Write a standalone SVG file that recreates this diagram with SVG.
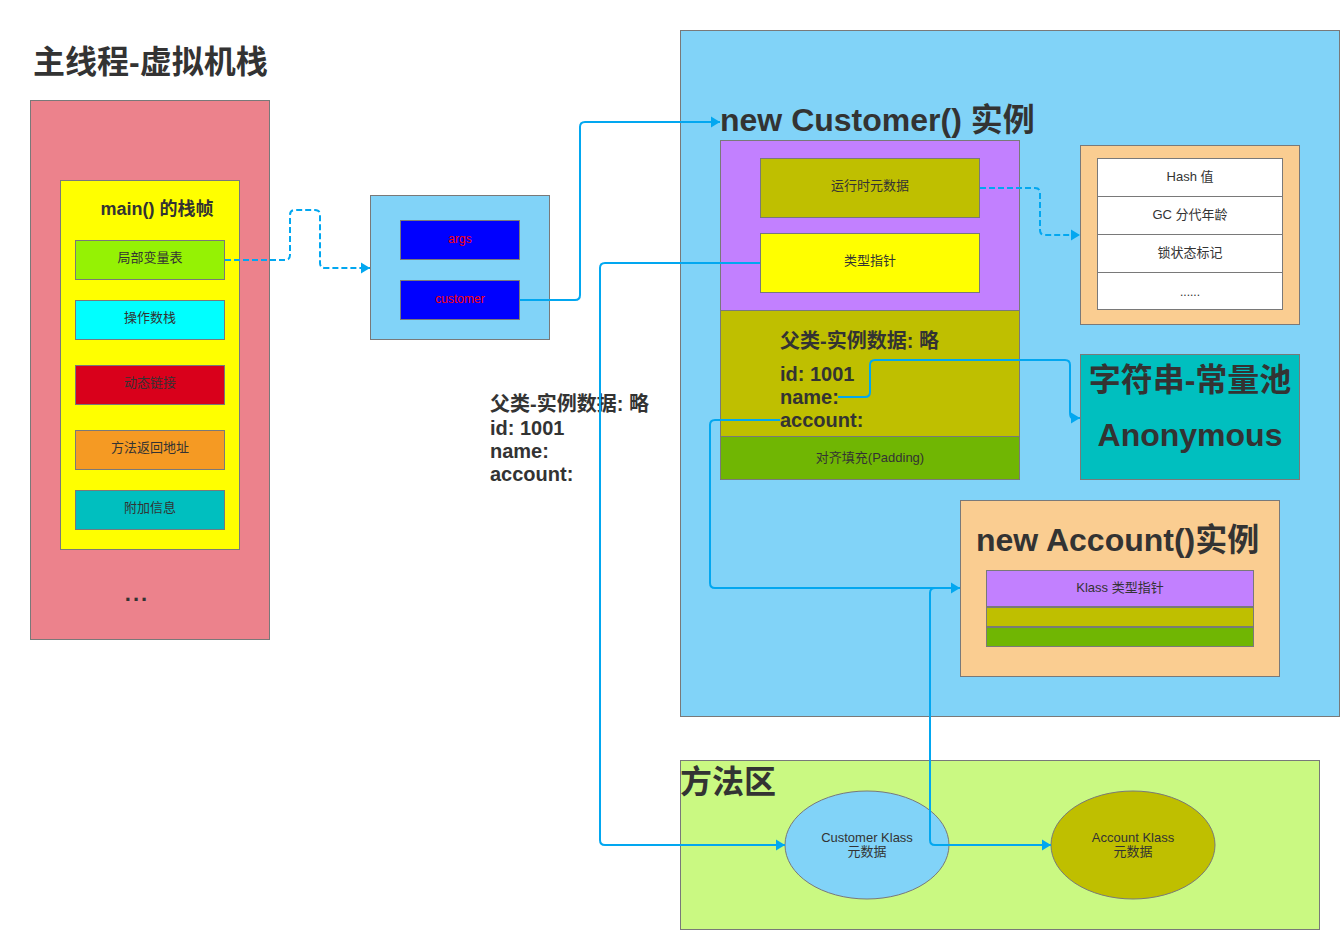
<svg xmlns="http://www.w3.org/2000/svg" width="1340" height="930" viewBox="0 0 1340 930">
<defs>
<style>
text{font-family:"Liberation Sans","Noto Sans CJK SC",sans-serif;fill:#333333}
.b{font-weight:bold}
.box{stroke:#797979;stroke-width:1}
.s13{font-size:13px}
.s12{font-size:12px}
.c{text-anchor:middle;dominant-baseline:central}
.ln{fill:none;stroke:#02A7F0;stroke-width:2}
.dash{stroke-dasharray:6,3}
</style>
<marker id="ar" viewBox="0 0 10 12" refX="10" refY="6" markerWidth="9" markerHeight="12" orient="auto" markerUnits="userSpaceOnUse">
<path d="M0,0 L10,6 L0,12 z" fill="#02A7F0"/>
</marker>
</defs>
<rect width="1340" height="930" fill="#FFFFFF"/>

<g id="stack">
<text x="33" y="73" class="b" font-size="32">主线程-虚拟机栈</text>
<rect x="30.5" y="100.5" width="239" height="539" fill="#EC828C" class="box"/>
<text x="137" y="601" class="b" font-size="22" text-anchor="middle" letter-spacing="2">...</text>
</g>
<g id="frame">
<rect x="60.5" y="180.5" width="179" height="369" fill="#FFFF00" class="box"/>
<text x="157" y="209" class="b c" font-size="18">main() 的栈帧</text>
</g>
<g id="locals"><rect x="75.5" y="240.5" width="149" height="39" fill="#95F204" class="box"/><text x="150" y="257" class="s13 c">局部变量表</text></g>
<g id="operand"><rect x="75.5" y="300.5" width="149" height="39" fill="#00FFFF" class="box"/><text x="150" y="317" class="s13 c">操作数栈</text></g>
<g id="dynlink"><rect x="75.5" y="365.5" width="149" height="39" fill="#D9001B" class="box"/><text x="150" y="382" class="s13 c">动态链接</text></g>
<g id="retaddr"><rect x="75.5" y="430.5" width="149" height="39" fill="#F59A23" class="box"/><text x="150" y="447" class="s13 c">方法返回地址</text></g>
<g id="extra"><rect x="75.5" y="490.5" width="149" height="39" fill="#00BFBF" class="box"/><text x="150" y="507" class="s13 c">附加信息</text></g>

<g id="lvt">
<rect x="370.5" y="195.5" width="179" height="144" fill="#81D3F8" class="box"/>
<rect x="400.5" y="220.5" width="119" height="39" fill="#0000FF" class="box"/>
<text x="460" y="239" class="s12 c" style="fill:#FF0000">args</text>
<rect x="400.5" y="280.5" width="119" height="39" fill="#0000FF" class="box"/>
<text x="460" y="299" class="s12 c" style="fill:#FF0000">customer</text>
</g>

<g id="floating-text">
<text x="490" y="411" class="b" font-size="20">父类-实例数据: 略</text>
<text x="490" y="435" class="b" font-size="20">id: 1001</text>
<text x="490" y="458" class="b" font-size="20">name:</text>
<text x="490" y="481" class="b" font-size="20">account:</text>
</g>

<g id="heap">
<rect x="680.5" y="30.5" width="659" height="686" fill="#81D3F8" class="box"/>
</g>
<g id="customer">
<text x="720" y="131" class="b" font-size="32">new Customer() 实例</text>
<rect x="720.5" y="140.5" width="299" height="170" fill="#C280FF" class="box"/>
<rect x="760.5" y="158.5" width="219" height="59" fill="#BFBF00" class="box"/>
<text x="870" y="185" class="s13 c">运行时元数据</text>
<rect x="760.5" y="233.5" width="219" height="59" fill="#FFFF00" class="box"/>
<text x="870" y="260" class="s13 c">类型指针</text>
<rect x="720.5" y="310.5" width="299" height="126" fill="#BFBF00" class="box"/>
<text x="780" y="348" class="b" font-size="20">父类-实例数据: 略</text>
<text x="780" y="381" class="b" font-size="20">id: 1001</text>
<text x="780" y="404" class="b" font-size="20">name:</text>
<text x="780" y="427" class="b" font-size="20">account:</text>
<rect x="720.5" y="436.5" width="299" height="43" fill="#70B603" class="box"/>
<text x="870" y="457" class="s13 c">对齐填充(Padding)</text>
</g>

<g id="markword">
<rect x="1080.5" y="145.5" width="219" height="179" fill="#FACD91" class="box"/>
<rect x="1097.5" y="158.5" width="185" height="38" fill="#FFFFFF" class="box"/>
<rect x="1097.5" y="196.5" width="185" height="38" fill="#FFFFFF" class="box"/>
<rect x="1097.5" y="234.5" width="185" height="38" fill="#FFFFFF" class="box"/>
<rect x="1097.5" y="272.5" width="185" height="37" fill="#FFFFFF" class="box"/>
<text x="1190" y="176" class="s13 c">Hash 值</text>
<text x="1190" y="214" class="s13 c">GC 分代年龄</text>
<text x="1190" y="252" class="s13 c">锁状态标记</text>
<text x="1190" y="292" class="s12 c">......</text>
</g>

<g id="stringpool">
<rect x="1080.5" y="354.5" width="219" height="125" fill="#00BFBF" class="box"/>
<text x="1190" y="380" class="b c" font-size="32">字符串-常量池</text>
<text x="1190" y="435" class="b c" font-size="32">Anonymous</text>
</g>

<g id="account">
<rect x="960.5" y="500.5" width="319" height="176" fill="#FACD91" class="box"/>
<text x="976" y="551" class="b" font-size="32">new Account()实例</text>
<rect x="986.5" y="570.5" width="267" height="36" fill="#C280FF" class="box"/>
<text x="1120" y="587" class="s13 c">Klass 类型指针</text>
<rect x="986.5" y="607.5" width="267" height="19" fill="#BFBF00" class="box"/>
<rect x="986.5" y="627.5" width="267" height="19" fill="#70B603" class="box"/>
</g>

<g id="methodarea">
<rect x="680.5" y="760.5" width="639" height="169" fill="#CAF982" class="box"/>
<text x="680" y="793" class="b" font-size="32">方法区</text>
</g>
<g id="customerklass">
<ellipse cx="867" cy="845" rx="82" ry="54" fill="#81D3F8" class="box"/>
<text x="867" y="837" class="s13 c">Customer Klass</text>
<text x="867" y="851" class="s13 c">元数据</text>
</g>
<g id="accountklass">
<ellipse cx="1133" cy="845" rx="82" ry="54" fill="#BFBF00" class="box"/>
<text x="1133" y="837" class="s13 c">Account Klass</text>
<text x="1133" y="851" class="s13 c">元数据</text>
</g>

<g id="connectors">
<path class="ln dash" d="M225,260 H285 Q290,260 290,255 V215 Q290,210 295,210 H315 Q320,210 320,215 V263 Q320,268 325,268 H370" marker-end="url(#ar)"/>
<path class="ln" d="M520,300 H575 Q580,300 580,295 V127 Q580,122 585,122 H720" marker-end="url(#ar)"/>
<path class="ln dash" d="M980,188 H1035 Q1040,188 1040,193 V230 Q1040,235 1045,235 H1080" marker-end="url(#ar)"/>
<path class="ln" d="M838,397 H865 Q870,397 870,392 V365 Q870,360 875,360 H1065 Q1070,360 1070,365 V412 Q1070,418 1072,418 H1080" marker-end="url(#ar)"/>
<path class="ln" d="M780,420 H715 Q710,420 710,425 V583 Q710,588 715,588 H960" marker-end="url(#ar)"/>
<path class="ln" d="M760,263 H605 Q600,263 600,268 V840 Q600,845 605,845 H785" marker-end="url(#ar)"/>
<path class="ln" d="M952,588 H935 Q930,588 930,593 V840 Q930,845 935,845 H1051" marker-end="url(#ar)"/>
</g>
</svg>
